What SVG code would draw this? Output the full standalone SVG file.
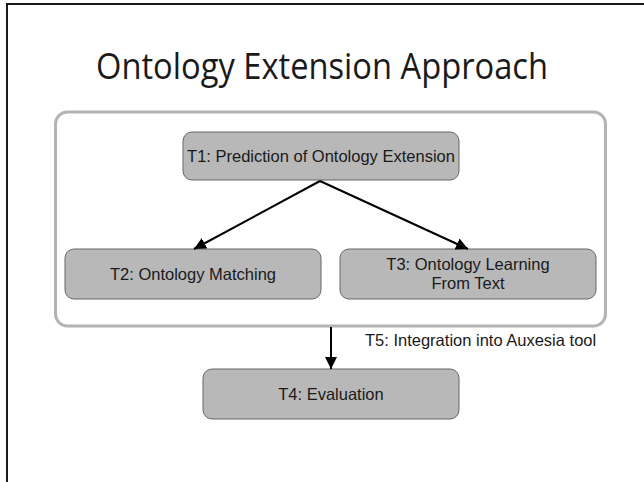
<svg xmlns="http://www.w3.org/2000/svg" width="644" height="482" viewBox="0 0 644 482">
  <style>
    .frame { fill: none; stroke: #1a1a1a; stroke-width: 2; }
    .title { font-family: "Open Sans", "Lato", "Liberation Sans", sans-serif; font-size: 37px; fill: #1a1a1a; }
    .group { fill: #ffffff; stroke: #b3b3b3; stroke-width: 3; }
    .task rect { fill: #b8b8b8; stroke: #666666; stroke-width: 1; }
    .label { font-family: "Liberation Sans", Arial, sans-serif; font-size: 16.5px; fill: #1a1a1a; text-anchor: middle; }
    .note { font-family: "Liberation Sans", Arial, sans-serif; font-size: 16.5px; fill: #1a1a1a; }
    .conn { stroke: #000000; stroke-width: 2; fill: none; marker-end: url(#head); }
  </style>
  <defs>
    <marker id="head" viewBox="0 0 10 10" refX="10" refY="5" markerWidth="6" markerHeight="6" markerUnits="strokeWidth" orient="auto">
      <path d="M0,0 L10,5 L0,10 z" fill="#000000"/>
    </marker>
  </defs>

  <rect width="644" height="482" fill="#ffffff"/>
  <!-- slide border: top and left edges -->
  <path class="frame" d="M7,482 V4 H644"/>

  <text class="title" x="322" y="79" text-anchor="middle" textLength="452" lengthAdjust="spacingAndGlyphs">Ontology Extension Approach</text>

  <!-- enclosing group -->
  <rect id="group" class="group" x="55.5" y="112" width="550" height="214" rx="12"/>

  <g id="t1" class="task">
    <rect x="183" y="132" width="276" height="48" rx="9"/>
    <text class="label" x="321" y="162">T1: Prediction of Ontology Extension</text>
  </g>
  <g id="t2" class="task">
    <rect x="65" y="249" width="256" height="50" rx="9"/>
    <text class="label" x="193" y="280">T2: Ontology Matching</text>
  </g>
  <g id="t3" class="task">
    <rect x="340" y="249" width="256" height="50" rx="9"/>
    <text class="label" x="468" y="270">T3: Ontology Learning</text>
    <text class="label" x="468" y="289">From Text</text>
  </g>
  <g id="t4" class="task">
    <rect x="203" y="369" width="256" height="50" rx="9"/>
    <text class="label" x="331" y="400">T4: Evaluation</text>
  </g>

  <g id="connectors">
    <line class="conn" x1="320" y1="181" x2="194" y2="249"/>
    <line class="conn" x1="320" y1="181" x2="468" y2="249"/>
    <line class="conn" x1="331" y1="327" x2="331" y2="369"/>
    <text class="note" x="365" y="346">T5: Integration into Auxesia tool</text>
  </g>
</svg>
